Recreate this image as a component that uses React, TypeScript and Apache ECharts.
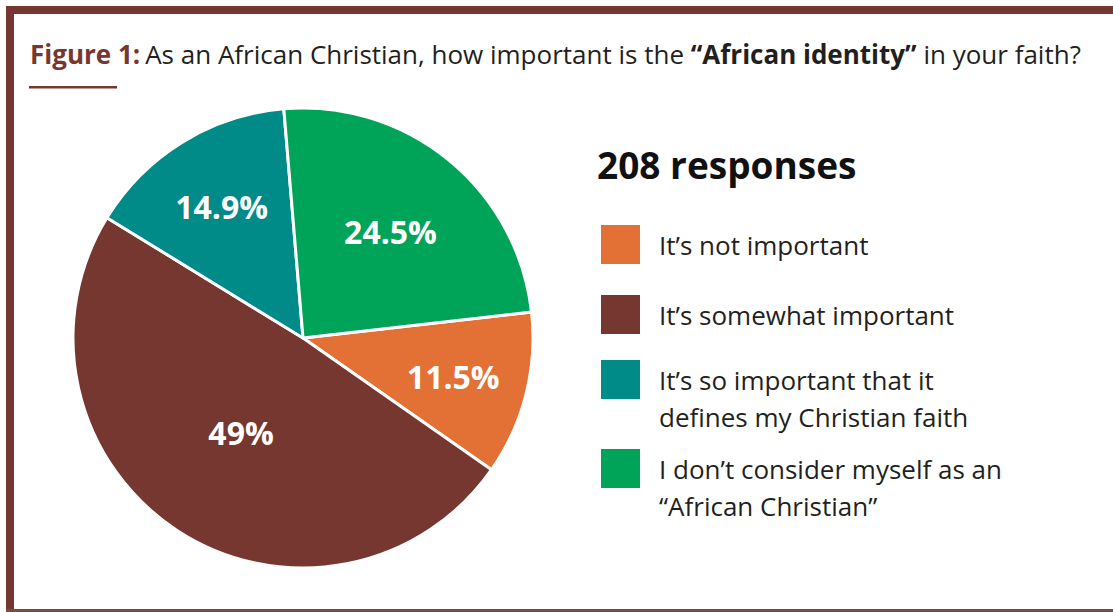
import React, { useEffect, useRef } from "react";
import * as echarts from "echarts";

const categories = [
  "It’s not important",
  "It’s somewhat important",
  "It’s so important that it\ndefines my Christian faith",
  "I don’t consider myself as an\n“African Christian”",
];
const values = [11.5, 49, 14.9, 24.5];
const colors = ["#e37035", "#763730", "#008a88", "#00a458"];
const responsesLabel = "208 responses";

const BROWN = "#763730";
const FONT = "'Open Sans', Lato, sans-serif";

export default function App() {
  const ref = useRef<HTMLDivElement>(null);

  useEffect(() => {
    if (!ref.current) return;
    const chart = echarts.init(ref.current, undefined, { renderer: "svg" });

    const center = [303, 338];
    const startAngle = 6.5;
    const labelStyle = {
      show: true,
      position: "inside",
      color: "#ffffff",
      fontFamily: FONT,
      fontWeight: "bold",
      fontSize: 32,
      formatter: (p: any) => `${p.value}%`,
    };

    const mainData = categories.map((name, i) => ({
      name,
      value: values[i],
      itemStyle: { color: colors[i] },
    }));

    const labelSeries = (radius: number[], showIdx: number[]) => ({
      type: "pie",
      silent: true,
      center,
      radius,
      startAngle,
      clockwise: true,
      z: 5,
      emphasis: { disabled: true },
      labelLine: { show: false },
      itemStyle: { color: "rgba(0,0,0,0)", borderWidth: 0 },
      label: labelStyle,
      data: categories.map((name, i) => ({
        name,
        value: values[i],
        label: { show: showIdx.includes(i) },
      })),
    });

    const legendTops = [223, 293, 324, 413];
    const legends = categories.map((name, i) => ({
      show: true,
      data: [name],
      left: 599,
      top: legendTops[i],
      padding: 0,
      orient: "vertical",
      icon: "rect",
      itemWidth: 41,
      itemHeight: 41,
      selectedMode: false,
      formatter: (n: string) => (n.includes("\n") ? "\n" + n : n),
      textStyle: {
        fontFamily: FONT,
        fontSize: 26,
        lineHeight: 37,
        color: "#231f20",
        padding: [0, 0, 0, 13],
      },
    }));

    chart.setOption({
      animation: false,
      backgroundColor: "#ffffff",
      title: [
        {
          left: 30,
          top: 41,
          padding: 0,
          text:
            "{a|Figure 1:} {b|As an African Christian, how important is the }{c|“African identity”}{b| in your faith?}",
          textStyle: {
            rich: {
              a: { fontFamily: FONT, fontSize: 26, fontWeight: "bold", color: BROWN },
              b: { fontFamily: FONT, fontSize: 26, fontWeight: "normal", color: "#231f20" },
              c: { fontFamily: FONT, fontSize: 26, fontWeight: "bold", color: "#231f20" },
            },
          },
        },
        {
          left: 597,
          top: 146,
          padding: 0,
          text: responsesLabel,
          textStyle: { fontFamily: FONT, fontSize: 37, fontWeight: "bold", color: "#111111" },
        },
      ],
      legend: legends,
      graphic: [
        { type: "rect", shape: { x: 6, y: 6, width: 1107, height: 8 }, style: { fill: BROWN }, silent: true },
        { type: "rect", shape: { x: 6, y: 6, width: 8, height: 606 }, style: { fill: BROWN }, silent: true },
        { type: "rect", shape: { x: 6, y: 609, width: 1107, height: 3 }, style: { fill: "#7a4a44" }, silent: true },
        { type: "rect", shape: { x: 29, y: 86, width: 88, height: 2.5 }, style: { fill: BROWN }, silent: true },
      ],
      series: [
        {
          type: "pie",
          name: "main",
          center,
          radius: 230,
          startAngle,
          clockwise: true,
          z: 2,
          emphasis: { disabled: true },
          labelLine: { show: false },
          itemStyle: { borderColor: "#ffffff", borderWidth: 3 },
          label: { show: false },
          data: mainData,
        },
        labelSeries([76, 228], [0, 2]),
        labelSeries([40, 230], [3]),
        labelSeries([0, 220], [1]),
      ],
    });

    return () => chart.dispose();
  }, []);

  return (
    <div
      ref={ref}
      style={{ position: "absolute", left: 0, top: 0, width: 1113, height: 612 }}
    />
  );
}
